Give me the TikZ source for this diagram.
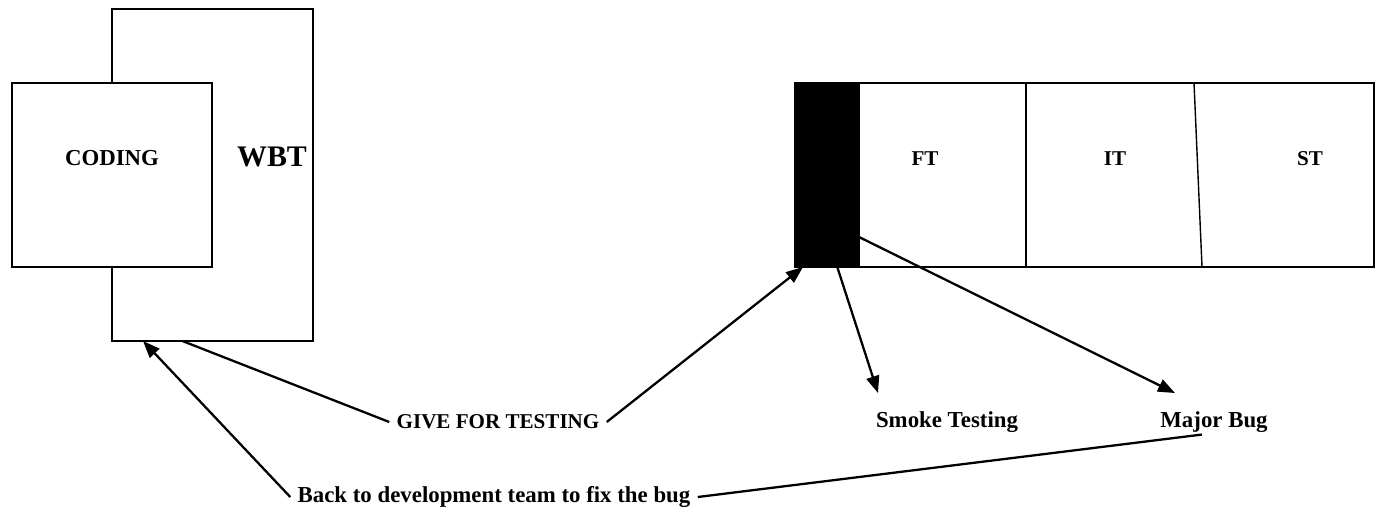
\documentclass[tikz,border=0pt]{standalone}
\usepackage{fontspec}
\setmainfont{Liberation Serif}
\usetikzlibrary{arrows.meta,calc}

\begin{document}
\begin{tikzpicture}[
    x=0.02cm, y=-0.02cm,
    >={Triangle[length=0.34cm, width=0.26cm]},
    box/.style={draw, line width=1.1pt, inner sep=0pt, outer sep=0pt},
    lbl/.style={font=\fontsize{12}{14}\selectfont\bfseries,
                inner xsep=4pt, inner ysep=1pt},
    txt/.style={lbl, font=\fontsize{13}{15}\selectfont\bfseries},
    link/.style={line width=1.3pt}
]
    \useasboundingbox (0,0) rectangle (1385,512);

    % Coding inside the white box testing frame
    \node[box, minimum width=4.02cm, minimum height=6.64cm] (wbt) at (212.5,175) {};
    \node[box, fill=white, minimum width=4cm, minimum height=3.68cm]
        (coding) at (112,175) {};
    \node[font=\fontsize{13}{15}\selectfont\bfseries] (codingtxt) at (112,158) {CODING};
    \node[font=\fontsize{17}{20}\selectfont\bfseries] (wbttxt) at (272,157) {WBT};

    % Testing levels
    \node[box, minimum width=11.58cm, minimum height=3.68cm] (levels) at (1084.5,175) {};
    \node[box, fill=black, minimum width=1.28cm, minimum height=3.68cm]
        (smk) at (827,175) {};
    \draw[line width=1.1pt] (1026,83) -- (1026,267);
    \draw[line width=0.8pt] (1194,83) -- (1202,267);
    \node[lbl] (ft) at (925,159) {FT};
    \node[lbl] (it) at (1115,159) {IT};
    \node[lbl] (st) at (1310,159) {ST};

    % Labels below
    \node[lbl] (give)  at (498,422)  {GIVE FOR TESTING};
    \node[txt] (smoke) at (947,422)  {Smoke Testing};
    \node[txt] (major) at (1214,422) {Major Bug};
    \node[txt] (back)  at (494,497)  {Back to development team to fix the bug};
    \coordinate (smoketip) at (878,393);
    \coordinate (majortip) at (1175,393);

    % Forward flow
    \draw[link] ($(wbt.south west)!0.35!(wbt.south east)$) -- (give.west);
    \draw[link, ->] (give.east) -- ($(smk.south west)+(8,0)$);
    \draw[link, ->] ($(smk.south west)!0.66!(smk.south east)$) -- (smoketip);
    \draw[link, ->] ($(smk.east)+(0,62)$) -- (majortip);

    % Back to development
    \draw[link] ($(major.south west)!0.4!(major.south east)$) -- (back.east);
    \draw[link, ->] (back.west) -- ($(wbt.south west)+(31,0)$);
\end{tikzpicture}
\end{document}
